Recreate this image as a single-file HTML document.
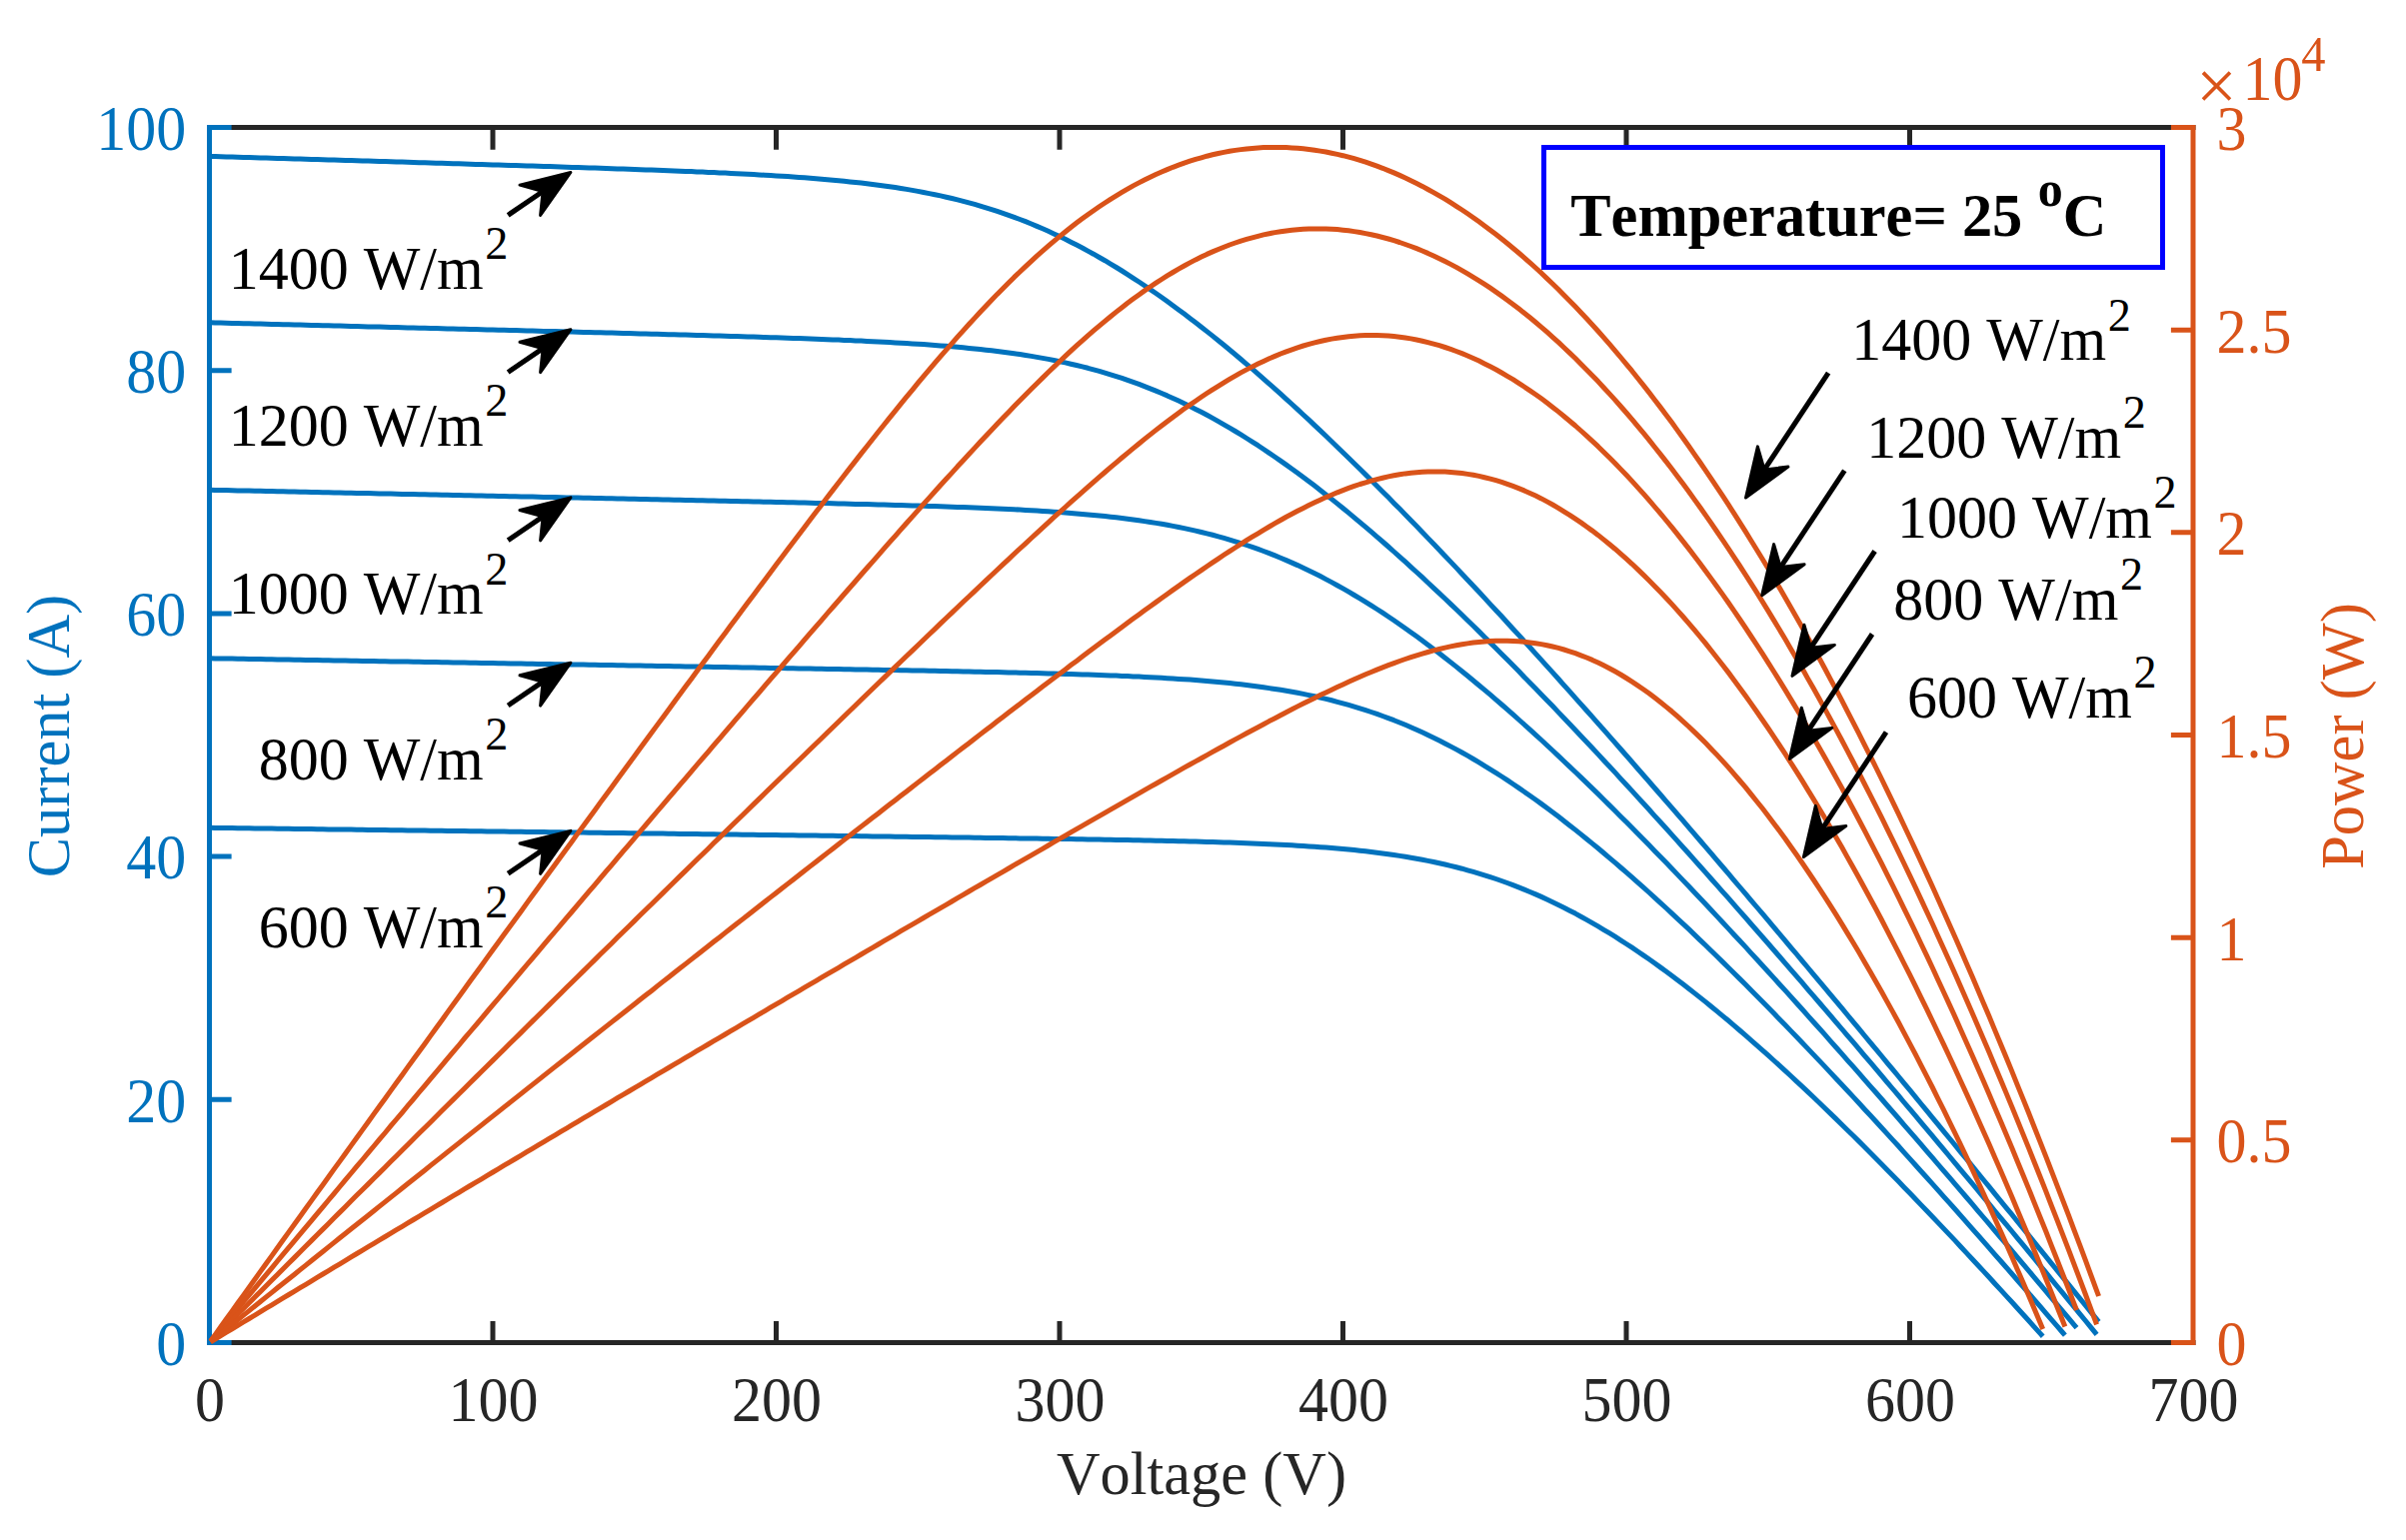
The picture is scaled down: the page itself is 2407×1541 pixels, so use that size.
<!DOCTYPE html><html><head><meta charset="utf-8"><title>PV I-V and P-V curves</title>
<style>html,body{margin:0;padding:0;background:#fff;overflow:hidden}svg{display:block}text{font-family:"Liberation Serif",serif;font-kerning:none}</style></head><body>
<svg width="2407" height="1541" viewBox="0 0 2407 1541">
<rect width="2407" height="1541" fill="#fff"/>
<g stroke="#262626" stroke-width="5.0" stroke-linecap="square" fill="none">
<path d="M209.5 1343.5H2194.0M209.5 127.5H2194.0"/>
<path d="M493.00 1343.5V1322.10M493.00 127.5V149.70M776.50 1343.5V1322.10M776.50 127.5V149.70M1060.00 1343.5V1322.10M1060.00 127.5V149.70M1343.50 1343.5V1322.10M1343.50 127.5V149.70M1627.00 1343.5V1322.10M1627.00 127.5V149.70M1910.50 1343.5V1322.10M1910.50 127.5V149.70" stroke-linecap="butt"/></g>
<text transform="translate(210.0 1422.3) scale(1 1.06)" font-size="60" fill="#262626" text-anchor="middle">0</text>
<text transform="translate(493.5 1422.3) scale(1 1.06)" font-size="60" fill="#262626" text-anchor="middle">100</text>
<text transform="translate(777.0 1422.3) scale(1 1.06)" font-size="60" fill="#262626" text-anchor="middle">200</text>
<text transform="translate(1060.5 1422.3) scale(1 1.06)" font-size="60" fill="#262626" text-anchor="middle">300</text>
<text transform="translate(1344.0 1422.3) scale(1 1.06)" font-size="60" fill="#262626" text-anchor="middle">400</text>
<text transform="translate(1627.5 1422.3) scale(1 1.06)" font-size="60" fill="#262626" text-anchor="middle">500</text>
<text transform="translate(1911.0 1422.3) scale(1 1.06)" font-size="60" fill="#262626" text-anchor="middle">600</text>
<text transform="translate(2194.5 1422.3) scale(1 1.06)" font-size="60" fill="#262626" text-anchor="middle">700</text>
<text x="1202" y="1494.8" font-size="60.4" fill="#262626" text-anchor="middle">Voltage (V)</text>
<g stroke="#0072BD" stroke-width="5.0" stroke-linecap="square" fill="none">
<path d="M209.5 127.5V1343.5"/><path d="M209.5 1343.50H231.60M209.5 1100.30H231.60M209.5 857.10H231.60M209.5 613.90H231.60M209.5 370.70H231.60M209.5 127.50H231.60" stroke-linecap="butt"/></g>
<text transform="translate(186.3 1365.8) scale(1 1.06)" font-size="60" fill="#0072BD" text-anchor="end">0</text>
<text transform="translate(186.3 1122.6) scale(1 1.06)" font-size="60" fill="#0072BD" text-anchor="end">20</text>
<text transform="translate(186.3 879.4) scale(1 1.06)" font-size="60" fill="#0072BD" text-anchor="end">40</text>
<text transform="translate(186.3 636.2) scale(1 1.06)" font-size="60" fill="#0072BD" text-anchor="end">60</text>
<text transform="translate(186.3 393.0) scale(1 1.06)" font-size="60" fill="#0072BD" text-anchor="end">80</text>
<text transform="translate(186.3 149.8) scale(1 1.06)" font-size="60" fill="#0072BD" text-anchor="end">100</text>
<text transform="translate(68.6 736.5) rotate(-90)" font-size="60.4" fill="#0072BD" text-anchor="middle">Current (A)</text>
<g fill="none" stroke="#0072BD" stroke-width="5.0" stroke-linejoin="round">
<path d="M210.6 156.4 L215.2 156.6 L220.8 156.8 L226.5 156.9 L232.2 157.1 L237.8 157.3 L243.5 157.4 L249.2 157.6 L254.9 157.8 L260.5 157.9 L266.2 158.1 L271.9 158.3 L277.5 158.4 L283.2 158.6 L288.9 158.8 L294.6 158.9 L300.2 159.1 L305.9 159.3 L311.6 159.4 L317.2 159.6 L322.9 159.8 L328.6 159.9 L334.2 160.1 L339.9 160.3 L345.6 160.5 L351.2 160.6 L356.9 160.8 L362.6 161.0 L368.3 161.1 L373.9 161.3 L379.6 161.5 L385.3 161.6 L390.9 161.8 L396.6 162.0 L402.3 162.1 L407.9 162.3 L413.6 162.5 L419.3 162.7 L425.0 162.8 L430.6 163.0 L436.3 163.2 L442.0 163.3 L447.6 163.5 L453.3 163.7 L459.0 163.8 L464.6 164.0 L470.3 164.2 L476.0 164.4 L481.7 164.5 L487.3 164.7 L493.0 164.9 L498.7 165.1 L504.3 165.2 L510.0 165.4 L515.7 165.6 L521.4 165.8 L527.0 165.9 L532.7 166.1 L538.4 166.3 L544.0 166.5 L549.7 166.6 L555.4 166.8 L561.0 167.0 L566.7 167.2 L572.4 167.4 L578.0 167.6 L583.7 167.7 L589.4 167.9 L595.1 168.1 L600.7 168.3 L606.4 168.5 L612.1 168.7 L617.7 168.9 L623.4 169.1 L629.1 169.3 L634.8 169.5 L640.4 169.7 L646.1 169.9 L651.8 170.1 L657.4 170.3 L663.1 170.5 L668.8 170.7 L674.4 170.9 L680.1 171.2 L685.8 171.4 L691.5 171.6 L697.1 171.9 L702.8 172.1 L708.5 172.4 L714.1 172.6 L719.8 172.9 L725.5 173.1 L731.1 173.4 L736.8 173.7 L742.5 174.0 L748.1 174.3 L753.8 174.6 L759.5 174.9 L765.2 175.2 L770.8 175.6 L776.5 175.9 L782.2 176.3 L787.8 176.6 L793.5 177.0 L799.2 177.4 L804.9 177.8 L810.5 178.3 L816.2 178.7 L821.9 179.2 L827.5 179.7 L833.2 180.2 L838.9 180.7 L844.5 181.3 L850.2 181.9 L855.9 182.5 L861.5 183.1 L867.2 183.8 L872.9 184.5 L878.6 185.2 L884.2 186.0 L889.9 186.8 L895.6 187.6 L901.2 188.5 L906.9 189.4 L912.6 190.4 L918.2 191.4 L923.9 192.5 L929.6 193.6 L935.3 194.7 L940.9 195.9 L946.6 197.2 L952.3 198.5 L957.9 199.9 L963.6 201.4 L969.3 202.9 L975.0 204.4 L980.6 206.1 L986.3 207.8 L992.0 209.6 L997.6 211.4 L1003.3 213.3 L1009.0 215.3 L1014.6 217.4 L1020.3 219.5 L1026.0 221.7 L1031.7 224.0 L1037.3 226.4 L1043.0 228.8 L1048.7 231.3 L1054.3 233.9 L1060.0 236.6 L1065.7 239.3 L1071.3 242.2 L1077.0 245.1 L1082.7 248.0 L1088.3 251.1 L1094.0 254.2 L1099.7 257.5 L1105.4 260.7 L1111.0 264.1 L1116.7 267.5 L1122.4 271.0 L1128.0 274.6 L1133.7 278.3 L1139.4 282.0 L1145.0 285.8 L1150.7 289.6 L1156.4 293.5 L1162.1 297.5 L1167.7 301.6 L1173.4 305.7 L1179.1 309.9 L1184.7 314.1 L1190.4 318.4 L1196.1 322.7 L1201.8 327.2 L1207.4 331.6 L1213.1 336.1 L1218.8 340.7 L1224.4 345.3 L1230.1 350.0 L1235.8 354.7 L1241.4 359.5 L1247.1 364.3 L1252.8 369.2 L1258.5 374.1 L1264.1 379.1 L1269.8 384.1 L1275.5 389.1 L1281.1 394.2 L1286.8 399.3 L1292.5 404.5 L1298.1 409.7 L1303.8 415.0 L1309.5 420.2 L1315.2 425.6 L1320.8 430.9 L1326.5 436.3 L1332.2 441.7 L1337.8 447.2 L1343.5 452.7 L1349.2 458.2 L1354.8 463.7 L1360.5 469.3 L1366.2 474.9 L1371.8 480.6 L1377.5 486.2 L1383.2 491.9 L1388.9 497.6 L1394.5 503.4 L1400.2 509.1 L1405.9 514.9 L1411.5 520.8 L1417.2 526.6 L1422.9 532.5 L1428.5 538.4 L1434.2 544.3 L1439.9 550.2 L1445.6 556.2 L1451.2 562.1 L1456.9 568.1 L1462.6 574.2 L1468.2 580.2 L1473.9 586.3 L1479.6 592.3 L1485.2 598.4 L1490.9 604.6 L1496.6 610.7 L1502.3 616.8 L1507.9 623.0 L1513.6 629.2 L1519.3 635.4 L1524.9 641.6 L1530.6 647.8 L1536.3 654.1 L1542.0 660.4 L1547.6 666.6 L1553.3 672.9 L1559.0 679.2 L1564.6 685.6 L1570.3 691.9 L1576.0 698.3 L1581.6 704.6 L1587.3 711.0 L1593.0 717.4 L1598.7 723.8 L1604.3 730.2 L1610.0 736.6 L1615.7 743.1 L1621.3 749.5 L1627.0 756.0 L1632.7 762.5 L1638.3 769.0 L1644.0 775.5 L1649.7 782.0 L1655.3 788.5 L1661.0 795.0 L1666.7 801.6 L1672.4 808.1 L1678.0 814.7 L1683.7 821.2 L1689.4 827.8 L1695.0 834.4 L1700.7 841.0 L1706.4 847.6 L1712.0 854.2 L1717.7 860.9 L1723.4 867.5 L1729.1 874.2 L1734.7 880.8 L1740.4 887.5 L1746.1 894.1 L1751.7 900.8 L1757.4 907.5 L1763.1 914.2 L1768.8 920.9 L1774.4 927.6 L1780.1 934.3 L1785.8 941.1 L1791.4 947.8 L1797.1 954.5 L1802.8 961.3 L1808.4 968.0 L1814.1 974.8 L1819.8 981.6 L1825.5 988.3 L1831.1 995.1 L1836.8 1001.9 L1842.5 1008.7 L1848.1 1015.5 L1853.8 1022.3 L1859.5 1029.1 L1865.1 1036.0 L1870.8 1042.8 L1876.5 1049.6 L1882.2 1056.5 L1887.8 1063.3 L1893.5 1070.2 L1899.2 1077.0 L1904.8 1083.9 L1910.5 1090.7 L1916.2 1097.6 L1921.8 1104.5 L1927.5 1111.4 L1933.2 1118.3 L1938.8 1125.2 L1944.5 1132.1 L1950.2 1139.0 L1955.9 1145.9 L1961.5 1152.8 L1967.2 1159.7 L1972.9 1166.6 L1978.5 1173.6 L1984.2 1180.5 L1989.9 1187.4 L1995.5 1194.4 L2001.2 1201.3 L2006.9 1208.3 L2012.6 1215.2 L2018.2 1222.2 L2023.9 1229.2 L2029.6 1236.1 L2035.2 1243.1 L2040.9 1250.1 L2046.6 1257.1 L2052.2 1264.1 L2057.9 1271.1 L2063.6 1278.1 L2069.3 1285.1 L2074.9 1292.1 L2080.6 1299.1 L2086.3 1306.1 L2091.9 1313.1 L2097.6 1320.1 L2099.6 1322.6"/>
<path d="M210.6 322.8 L215.2 323.0 L220.8 323.1 L226.5 323.2 L232.2 323.4 L237.8 323.5 L243.5 323.7 L249.2 323.8 L254.9 324.0 L260.5 324.1 L266.2 324.3 L271.9 324.4 L277.5 324.5 L283.2 324.7 L288.9 324.8 L294.6 325.0 L300.2 325.1 L305.9 325.3 L311.6 325.4 L317.2 325.6 L322.9 325.7 L328.6 325.8 L334.2 326.0 L339.9 326.1 L345.6 326.3 L351.2 326.4 L356.9 326.6 L362.6 326.7 L368.3 326.9 L373.9 327.0 L379.6 327.1 L385.3 327.3 L390.9 327.4 L396.6 327.6 L402.3 327.7 L407.9 327.9 L413.6 328.0 L419.3 328.2 L425.0 328.3 L430.6 328.4 L436.3 328.6 L442.0 328.7 L447.6 328.9 L453.3 329.0 L459.0 329.2 L464.6 329.3 L470.3 329.5 L476.0 329.6 L481.7 329.8 L487.3 329.9 L493.0 330.0 L498.7 330.2 L504.3 330.3 L510.0 330.5 L515.7 330.6 L521.4 330.8 L527.0 330.9 L532.7 331.1 L538.4 331.2 L544.0 331.4 L549.7 331.5 L555.4 331.6 L561.0 331.8 L566.7 331.9 L572.4 332.1 L578.0 332.2 L583.7 332.4 L589.4 332.5 L595.1 332.7 L600.7 332.8 L606.4 333.0 L612.1 333.1 L617.7 333.3 L623.4 333.4 L629.1 333.6 L634.8 333.7 L640.4 333.9 L646.1 334.0 L651.8 334.2 L657.4 334.3 L663.1 334.5 L668.8 334.7 L674.4 334.8 L680.1 335.0 L685.8 335.1 L691.5 335.3 L697.1 335.4 L702.8 335.6 L708.5 335.8 L714.1 335.9 L719.8 336.1 L725.5 336.3 L731.1 336.4 L736.8 336.6 L742.5 336.8 L748.1 336.9 L753.8 337.1 L759.5 337.3 L765.2 337.5 L770.8 337.7 L776.5 337.8 L782.2 338.0 L787.8 338.2 L793.5 338.4 L799.2 338.6 L804.9 338.8 L810.5 339.0 L816.2 339.2 L821.9 339.4 L827.5 339.7 L833.2 339.9 L838.9 340.1 L844.5 340.4 L850.2 340.6 L855.9 340.9 L861.5 341.1 L867.2 341.4 L872.9 341.7 L878.6 341.9 L884.2 342.2 L889.9 342.5 L895.6 342.9 L901.2 343.2 L906.9 343.5 L912.6 343.9 L918.2 344.2 L923.9 344.6 L929.6 345.0 L935.3 345.4 L940.9 345.9 L946.6 346.3 L952.3 346.8 L957.9 347.3 L963.6 347.8 L969.3 348.4 L975.0 348.9 L980.6 349.5 L986.3 350.2 L992.0 350.8 L997.6 351.5 L1003.3 352.2 L1009.0 353.0 L1014.6 353.8 L1020.3 354.6 L1026.0 355.5 L1031.7 356.4 L1037.3 357.4 L1043.0 358.4 L1048.7 359.4 L1054.3 360.5 L1060.0 361.7 L1065.7 362.9 L1071.3 364.2 L1077.0 365.5 L1082.7 366.9 L1088.3 368.3 L1094.0 369.9 L1099.7 371.4 L1105.4 373.1 L1111.0 374.8 L1116.7 376.6 L1122.4 378.4 L1128.0 380.4 L1133.7 382.4 L1139.4 384.4 L1145.0 386.6 L1150.7 388.8 L1156.4 391.1 L1162.1 393.5 L1167.7 395.9 L1173.4 398.5 L1179.1 401.1 L1184.7 403.8 L1190.4 406.6 L1196.1 409.4 L1201.8 412.3 L1207.4 415.3 L1213.1 418.4 L1218.8 421.6 L1224.4 424.8 L1230.1 428.1 L1235.8 431.5 L1241.4 434.9 L1247.1 438.5 L1252.8 442.1 L1258.5 445.7 L1264.1 449.5 L1269.8 453.3 L1275.5 457.2 L1281.1 461.1 L1286.8 465.1 L1292.5 469.2 L1298.1 473.3 L1303.8 477.5 L1309.5 481.8 L1315.2 486.1 L1320.8 490.5 L1326.5 494.9 L1332.2 499.4 L1337.8 503.9 L1343.5 508.5 L1349.2 513.1 L1354.8 517.8 L1360.5 522.6 L1366.2 527.4 L1371.8 532.2 L1377.5 537.1 L1383.2 542.0 L1388.9 547.0 L1394.5 552.0 L1400.2 557.1 L1405.9 562.2 L1411.5 567.3 L1417.2 572.5 L1422.9 577.7 L1428.5 583.0 L1434.2 588.3 L1439.9 593.6 L1445.6 599.0 L1451.2 604.4 L1456.9 609.8 L1462.6 615.3 L1468.2 620.8 L1473.9 626.3 L1479.6 631.9 L1485.2 637.5 L1490.9 643.1 L1496.6 648.7 L1502.3 654.4 L1507.9 660.1 L1513.6 665.8 L1519.3 671.6 L1524.9 677.4 L1530.6 683.2 L1536.3 689.0 L1542.0 694.9 L1547.6 700.7 L1553.3 706.6 L1559.0 712.6 L1564.6 718.5 L1570.3 724.5 L1576.0 730.5 L1581.6 736.5 L1587.3 742.5 L1593.0 748.5 L1598.7 754.6 L1604.3 760.7 L1610.0 766.8 L1615.7 772.9 L1621.3 779.1 L1627.0 785.2 L1632.7 791.4 L1638.3 797.6 L1644.0 803.8 L1649.7 810.0 L1655.3 816.3 L1661.0 822.5 L1666.7 828.8 L1672.4 835.1 L1678.0 841.4 L1683.7 847.7 L1689.4 854.0 L1695.0 860.4 L1700.7 866.7 L1706.4 873.1 L1712.0 879.5 L1717.7 885.9 L1723.4 892.3 L1729.1 898.7 L1734.7 905.1 L1740.4 911.6 L1746.1 918.0 L1751.7 924.5 L1757.4 931.0 L1763.1 937.5 L1768.8 944.0 L1774.4 950.5 L1780.1 957.0 L1785.8 963.6 L1791.4 970.1 L1797.1 976.7 L1802.8 983.2 L1808.4 989.8 L1814.1 996.4 L1819.8 1003.0 L1825.5 1009.6 L1831.1 1016.2 L1836.8 1022.8 L1842.5 1029.5 L1848.1 1036.1 L1853.8 1042.7 L1859.5 1049.4 L1865.1 1056.1 L1870.8 1062.7 L1876.5 1069.4 L1882.2 1076.1 L1887.8 1082.8 L1893.5 1089.5 L1899.2 1096.2 L1904.8 1103.0 L1910.5 1109.7 L1916.2 1116.4 L1921.8 1123.2 L1927.5 1129.9 L1933.2 1136.7 L1938.8 1143.4 L1944.5 1150.2 L1950.2 1157.0 L1955.9 1163.8 L1961.5 1170.6 L1967.2 1177.4 L1972.9 1184.2 L1978.5 1191.0 L1984.2 1197.8 L1989.9 1204.6 L1995.5 1211.5 L2001.2 1218.3 L2006.9 1225.1 L2012.6 1232.0 L2018.2 1238.8 L2023.9 1245.7 L2029.6 1252.6 L2035.2 1259.4 L2040.9 1266.3 L2046.6 1273.2 L2052.2 1280.1 L2057.9 1287.0 L2063.6 1293.9 L2069.3 1300.8 L2074.9 1307.7 L2080.6 1314.6 L2086.3 1321.5 L2091.9 1328.4 L2097.6 1335.4"/>
<path d="M210.6 490.3 L215.2 490.4 L220.8 490.5 L226.5 490.6 L232.2 490.7 L237.8 490.9 L243.5 491.0 L249.2 491.1 L254.9 491.2 L260.5 491.3 L266.2 491.5 L271.9 491.6 L277.5 491.7 L283.2 491.8 L288.9 491.9 L294.6 492.1 L300.2 492.2 L305.9 492.3 L311.6 492.4 L317.2 492.6 L322.9 492.7 L328.6 492.8 L334.2 492.9 L339.9 493.0 L345.6 493.2 L351.2 493.3 L356.9 493.4 L362.6 493.5 L368.3 493.6 L373.9 493.8 L379.6 493.9 L385.3 494.0 L390.9 494.1 L396.6 494.2 L402.3 494.4 L407.9 494.5 L413.6 494.6 L419.3 494.7 L425.0 494.8 L430.6 495.0 L436.3 495.1 L442.0 495.2 L447.6 495.3 L453.3 495.4 L459.0 495.6 L464.6 495.7 L470.3 495.8 L476.0 495.9 L481.7 496.1 L487.3 496.2 L493.0 496.3 L498.7 496.4 L504.3 496.5 L510.0 496.7 L515.7 496.8 L521.4 496.9 L527.0 497.0 L532.7 497.1 L538.4 497.3 L544.0 497.4 L549.7 497.5 L555.4 497.6 L561.0 497.7 L566.7 497.9 L572.4 498.0 L578.0 498.1 L583.7 498.2 L589.4 498.3 L595.1 498.5 L600.7 498.6 L606.4 498.7 L612.1 498.8 L617.7 499.0 L623.4 499.1 L629.1 499.2 L634.8 499.3 L640.4 499.4 L646.1 499.6 L651.8 499.7 L657.4 499.8 L663.1 499.9 L668.8 500.1 L674.4 500.2 L680.1 500.3 L685.8 500.4 L691.5 500.6 L697.1 500.7 L702.8 500.8 L708.5 500.9 L714.1 501.0 L719.8 501.2 L725.5 501.3 L731.1 501.4 L736.8 501.6 L742.5 501.7 L748.1 501.8 L753.8 501.9 L759.5 502.1 L765.2 502.2 L770.8 502.3 L776.5 502.4 L782.2 502.6 L787.8 502.7 L793.5 502.8 L799.2 503.0 L804.9 503.1 L810.5 503.2 L816.2 503.4 L821.9 503.5 L827.5 503.6 L833.2 503.8 L838.9 503.9 L844.5 504.1 L850.2 504.2 L855.9 504.4 L861.5 504.5 L867.2 504.6 L872.9 504.8 L878.6 504.9 L884.2 505.1 L889.9 505.3 L895.6 505.4 L901.2 505.6 L906.9 505.7 L912.6 505.9 L918.2 506.1 L923.9 506.3 L929.6 506.4 L935.3 506.6 L940.9 506.8 L946.6 507.0 L952.3 507.2 L957.9 507.4 L963.6 507.6 L969.3 507.8 L975.0 508.1 L980.6 508.3 L986.3 508.5 L992.0 508.8 L997.6 509.0 L1003.3 509.3 L1009.0 509.6 L1014.6 509.8 L1020.3 510.1 L1026.0 510.4 L1031.7 510.8 L1037.3 511.1 L1043.0 511.5 L1048.7 511.8 L1054.3 512.2 L1060.0 512.6 L1065.7 513.0 L1071.3 513.5 L1077.0 513.9 L1082.7 514.4 L1088.3 514.9 L1094.0 515.4 L1099.7 516.0 L1105.4 516.6 L1111.0 517.2 L1116.7 517.8 L1122.4 518.5 L1128.0 519.2 L1133.7 520.0 L1139.4 520.8 L1145.0 521.6 L1150.7 522.5 L1156.4 523.4 L1162.1 524.3 L1167.7 525.3 L1173.4 526.4 L1179.1 527.5 L1184.7 528.6 L1190.4 529.9 L1196.1 531.1 L1201.8 532.5 L1207.4 533.9 L1213.1 535.3 L1218.8 536.8 L1224.4 538.4 L1230.1 540.1 L1235.8 541.8 L1241.4 543.6 L1247.1 545.5 L1252.8 547.4 L1258.5 549.4 L1264.1 551.5 L1269.8 553.7 L1275.5 555.9 L1281.1 558.2 L1286.8 560.6 L1292.5 563.1 L1298.1 565.6 L1303.8 568.3 L1309.5 571.0 L1315.2 573.8 L1320.8 576.6 L1326.5 579.6 L1332.2 582.6 L1337.8 585.7 L1343.5 588.9 L1349.2 592.2 L1354.8 595.5 L1360.5 598.9 L1366.2 602.4 L1371.8 605.9 L1377.5 609.5 L1383.2 613.2 L1388.9 617.0 L1394.5 620.8 L1400.2 624.7 L1405.9 628.7 L1411.5 632.7 L1417.2 636.8 L1422.9 641.0 L1428.5 645.2 L1434.2 649.4 L1439.9 653.8 L1445.6 658.2 L1451.2 662.6 L1456.9 667.1 L1462.6 671.7 L1468.2 676.3 L1473.9 681.0 L1479.6 685.7 L1485.2 690.4 L1490.9 695.2 L1496.6 700.1 L1502.3 705.0 L1507.9 709.9 L1513.6 714.9 L1519.3 720.0 L1524.9 725.0 L1530.6 730.2 L1536.3 735.3 L1542.0 740.5 L1547.6 745.8 L1553.3 751.0 L1559.0 756.3 L1564.6 761.7 L1570.3 767.1 L1576.0 772.5 L1581.6 777.9 L1587.3 783.4 L1593.0 788.9 L1598.7 794.4 L1604.3 800.0 L1610.0 805.6 L1615.7 811.3 L1621.3 816.9 L1627.0 822.6 L1632.7 828.3 L1638.3 834.0 L1644.0 839.8 L1649.7 845.6 L1655.3 851.4 L1661.0 857.3 L1666.7 863.1 L1672.4 869.0 L1678.0 874.9 L1683.7 880.9 L1689.4 886.8 L1695.0 892.8 L1700.7 898.8 L1706.4 904.8 L1712.0 910.8 L1717.7 916.9 L1723.4 923.0 L1729.1 929.1 L1734.7 935.2 L1740.4 941.3 L1746.1 947.4 L1751.7 953.6 L1757.4 959.8 L1763.1 966.0 L1768.8 972.2 L1774.4 978.4 L1780.1 984.7 L1785.8 990.9 L1791.4 997.2 L1797.1 1003.5 L1802.8 1009.8 L1808.4 1016.1 L1814.1 1022.5 L1819.8 1028.8 L1825.5 1035.2 L1831.1 1041.6 L1836.8 1048.0 L1842.5 1054.4 L1848.1 1060.8 L1853.8 1067.2 L1859.5 1073.6 L1865.1 1080.1 L1870.8 1086.6 L1876.5 1093.0 L1882.2 1099.5 L1887.8 1106.0 L1893.5 1112.5 L1899.2 1119.0 L1904.8 1125.6 L1910.5 1132.1 L1916.2 1138.7 L1921.8 1145.2 L1927.5 1151.8 L1933.2 1158.4 L1938.8 1165.0 L1944.5 1171.6 L1950.2 1178.2 L1955.9 1184.8 L1961.5 1191.4 L1967.2 1198.0 L1972.9 1204.7 L1978.5 1211.3 L1984.2 1218.0 L1989.9 1224.7 L1995.5 1231.4 L2001.2 1238.0 L2006.9 1244.7 L2012.6 1251.4 L2018.2 1258.1 L2023.9 1264.9 L2029.6 1271.6 L2035.2 1278.3 L2040.9 1285.1 L2046.6 1291.8 L2052.2 1298.6 L2057.9 1305.3 L2063.6 1312.1 L2069.3 1318.9 L2074.9 1325.6 L2077.5 1328.7"/>
<path d="M210.6 658.8 L215.2 658.9 L220.8 659.0 L226.5 659.1 L232.2 659.1 L237.8 659.2 L243.5 659.3 L249.2 659.4 L254.9 659.5 L260.5 659.6 L266.2 659.7 L271.9 659.8 L277.5 659.9 L283.2 660.0 L288.9 660.1 L294.6 660.2 L300.2 660.3 L305.9 660.4 L311.6 660.5 L317.2 660.6 L322.9 660.7 L328.6 660.8 L334.2 660.9 L339.9 661.0 L345.6 661.1 L351.2 661.2 L356.9 661.3 L362.6 661.4 L368.3 661.5 L373.9 661.6 L379.6 661.7 L385.3 661.8 L390.9 661.9 L396.6 662.0 L402.3 662.1 L407.9 662.1 L413.6 662.2 L419.3 662.3 L425.0 662.4 L430.6 662.5 L436.3 662.6 L442.0 662.7 L447.6 662.8 L453.3 662.9 L459.0 663.0 L464.6 663.1 L470.3 663.2 L476.0 663.3 L481.7 663.4 L487.3 663.5 L493.0 663.6 L498.7 663.7 L504.3 663.8 L510.0 663.9 L515.7 664.0 L521.4 664.1 L527.0 664.2 L532.7 664.3 L538.4 664.4 L544.0 664.5 L549.7 664.6 L555.4 664.7 L561.0 664.8 L566.7 664.9 L572.4 665.0 L578.0 665.1 L583.7 665.1 L589.4 665.2 L595.1 665.3 L600.7 665.4 L606.4 665.5 L612.1 665.6 L617.7 665.7 L623.4 665.8 L629.1 665.9 L634.8 666.0 L640.4 666.1 L646.1 666.2 L651.8 666.3 L657.4 666.4 L663.1 666.5 L668.8 666.6 L674.4 666.7 L680.1 666.8 L685.8 666.9 L691.5 667.0 L697.1 667.1 L702.8 667.2 L708.5 667.3 L714.1 667.4 L719.8 667.5 L725.5 667.6 L731.1 667.7 L736.8 667.8 L742.5 667.9 L748.1 668.0 L753.8 668.1 L759.5 668.2 L765.2 668.3 L770.8 668.4 L776.5 668.5 L782.2 668.6 L787.8 668.7 L793.5 668.8 L799.2 668.9 L804.9 669.0 L810.5 669.1 L816.2 669.2 L821.9 669.3 L827.5 669.4 L833.2 669.5 L838.9 669.6 L844.5 669.7 L850.2 669.8 L855.9 669.9 L861.5 670.0 L867.2 670.1 L872.9 670.2 L878.6 670.3 L884.2 670.4 L889.9 670.5 L895.6 670.6 L901.2 670.7 L906.9 670.8 L912.6 670.9 L918.2 671.0 L923.9 671.1 L929.6 671.2 L935.3 671.3 L940.9 671.5 L946.6 671.6 L952.3 671.7 L957.9 671.8 L963.6 671.9 L969.3 672.0 L975.0 672.2 L980.6 672.3 L986.3 672.4 L992.0 672.5 L997.6 672.6 L1003.3 672.8 L1009.0 672.9 L1014.6 673.0 L1020.3 673.2 L1026.0 673.3 L1031.7 673.5 L1037.3 673.6 L1043.0 673.8 L1048.7 673.9 L1054.3 674.1 L1060.0 674.2 L1065.7 674.4 L1071.3 674.6 L1077.0 674.7 L1082.7 674.9 L1088.3 675.1 L1094.0 675.3 L1099.7 675.5 L1105.4 675.7 L1111.0 675.9 L1116.7 676.1 L1122.4 676.4 L1128.0 676.6 L1133.7 676.9 L1139.4 677.1 L1145.0 677.4 L1150.7 677.7 L1156.4 678.0 L1162.1 678.3 L1167.7 678.7 L1173.4 679.0 L1179.1 679.4 L1184.7 679.7 L1190.4 680.1 L1196.1 680.6 L1201.8 681.0 L1207.4 681.5 L1213.1 682.0 L1218.8 682.5 L1224.4 683.0 L1230.1 683.6 L1235.8 684.2 L1241.4 684.8 L1247.1 685.5 L1252.8 686.2 L1258.5 687.0 L1264.1 687.7 L1269.8 688.6 L1275.5 689.4 L1281.1 690.3 L1286.8 691.3 L1292.5 692.3 L1298.1 693.3 L1303.8 694.4 L1309.5 695.6 L1315.2 696.8 L1320.8 698.1 L1326.5 699.4 L1332.2 700.8 L1337.8 702.3 L1343.5 703.8 L1349.2 705.4 L1354.8 707.1 L1360.5 708.8 L1366.2 710.6 L1371.8 712.5 L1377.5 714.4 L1383.2 716.5 L1388.9 718.6 L1394.5 720.7 L1400.2 723.0 L1405.9 725.3 L1411.5 727.7 L1417.2 730.2 L1422.9 732.8 L1428.5 735.5 L1434.2 738.2 L1439.9 741.0 L1445.6 743.9 L1451.2 746.9 L1456.9 749.9 L1462.6 753.0 L1468.2 756.2 L1473.9 759.5 L1479.6 762.9 L1485.2 766.3 L1490.9 769.8 L1496.6 773.4 L1502.3 777.0 L1507.9 780.7 L1513.6 784.5 L1519.3 788.4 L1524.9 792.3 L1530.6 796.3 L1536.3 800.3 L1542.0 804.4 L1547.6 808.6 L1553.3 812.8 L1559.0 817.1 L1564.6 821.5 L1570.3 825.9 L1576.0 830.4 L1581.6 834.9 L1587.3 839.5 L1593.0 844.1 L1598.7 848.8 L1604.3 853.5 L1610.0 858.3 L1615.7 863.1 L1621.3 868.0 L1627.0 872.9 L1632.7 877.9 L1638.3 882.9 L1644.0 887.9 L1649.7 893.0 L1655.3 898.1 L1661.0 903.3 L1666.7 908.5 L1672.4 913.8 L1678.0 919.1 L1683.7 924.4 L1689.4 929.7 L1695.0 935.1 L1700.7 940.6 L1706.4 946.0 L1712.0 951.5 L1717.7 957.0 L1723.4 962.6 L1729.1 968.2 L1734.7 973.8 L1740.4 979.4 L1746.1 985.1 L1751.7 990.8 L1757.4 996.5 L1763.1 1002.3 L1768.8 1008.0 L1774.4 1013.8 L1780.1 1019.7 L1785.8 1025.5 L1791.4 1031.4 L1797.1 1037.3 L1802.8 1043.2 L1808.4 1049.1 L1814.1 1055.1 L1819.8 1061.1 L1825.5 1067.1 L1831.1 1073.1 L1836.8 1079.2 L1842.5 1085.2 L1848.1 1091.3 L1853.8 1097.4 L1859.5 1103.5 L1865.1 1109.7 L1870.8 1115.8 L1876.5 1122.0 L1882.2 1128.2 L1887.8 1134.4 L1893.5 1140.6 L1899.2 1146.8 L1904.8 1153.1 L1910.5 1159.4 L1916.2 1165.7 L1921.8 1172.0 L1927.5 1178.3 L1933.2 1184.6 L1938.8 1190.9 L1944.5 1197.3 L1950.2 1203.7 L1955.9 1210.0 L1961.5 1216.4 L1967.2 1222.8 L1972.9 1229.3 L1978.5 1235.7 L1984.2 1242.1 L1989.9 1248.6 L1995.5 1255.1 L2001.2 1261.5 L2006.9 1268.0 L2012.6 1274.5 L2018.2 1281.0 L2023.9 1287.6 L2029.6 1294.1 L2035.2 1300.7 L2040.9 1307.2 L2046.6 1313.8 L2052.2 1320.3 L2057.9 1326.9 L2063.6 1333.5 L2065.9 1336.2"/>
<path d="M210.6 828.3 L215.2 828.4 L220.8 828.5 L226.5 828.5 L232.2 828.6 L237.8 828.7 L243.5 828.8 L249.2 828.8 L254.9 828.9 L260.5 829.0 L266.2 829.1 L271.9 829.1 L277.5 829.2 L283.2 829.3 L288.9 829.3 L294.6 829.4 L300.2 829.5 L305.9 829.6 L311.6 829.6 L317.2 829.7 L322.9 829.8 L328.6 829.9 L334.2 829.9 L339.9 830.0 L345.6 830.1 L351.2 830.1 L356.9 830.2 L362.6 830.3 L368.3 830.4 L373.9 830.4 L379.6 830.5 L385.3 830.6 L390.9 830.7 L396.6 830.7 L402.3 830.8 L407.9 830.9 L413.6 830.9 L419.3 831.0 L425.0 831.1 L430.6 831.2 L436.3 831.2 L442.0 831.3 L447.6 831.4 L453.3 831.5 L459.0 831.5 L464.6 831.6 L470.3 831.7 L476.0 831.7 L481.7 831.8 L487.3 831.9 L493.0 832.0 L498.7 832.0 L504.3 832.1 L510.0 832.2 L515.7 832.3 L521.4 832.3 L527.0 832.4 L532.7 832.5 L538.4 832.5 L544.0 832.6 L549.7 832.7 L555.4 832.8 L561.0 832.8 L566.7 832.9 L572.4 833.0 L578.0 833.1 L583.7 833.1 L589.4 833.2 L595.1 833.3 L600.7 833.3 L606.4 833.4 L612.1 833.5 L617.7 833.6 L623.4 833.6 L629.1 833.7 L634.8 833.8 L640.4 833.9 L646.1 833.9 L651.8 834.0 L657.4 834.1 L663.1 834.1 L668.8 834.2 L674.4 834.3 L680.1 834.4 L685.8 834.4 L691.5 834.5 L697.1 834.6 L702.8 834.7 L708.5 834.7 L714.1 834.8 L719.8 834.9 L725.5 835.0 L731.1 835.0 L736.8 835.1 L742.5 835.2 L748.1 835.2 L753.8 835.3 L759.5 835.4 L765.2 835.5 L770.8 835.5 L776.5 835.6 L782.2 835.7 L787.8 835.8 L793.5 835.8 L799.2 835.9 L804.9 836.0 L810.5 836.0 L816.2 836.1 L821.9 836.2 L827.5 836.3 L833.2 836.3 L838.9 836.4 L844.5 836.5 L850.2 836.6 L855.9 836.6 L861.5 836.7 L867.2 836.8 L872.9 836.9 L878.6 836.9 L884.2 837.0 L889.9 837.1 L895.6 837.2 L901.2 837.2 L906.9 837.3 L912.6 837.4 L918.2 837.5 L923.9 837.5 L929.6 837.6 L935.3 837.7 L940.9 837.8 L946.6 837.8 L952.3 837.9 L957.9 838.0 L963.6 838.1 L969.3 838.1 L975.0 838.2 L980.6 838.3 L986.3 838.4 L992.0 838.5 L997.6 838.5 L1003.3 838.6 L1009.0 838.7 L1014.6 838.8 L1020.3 838.9 L1026.0 838.9 L1031.7 839.0 L1037.3 839.1 L1043.0 839.2 L1048.7 839.3 L1054.3 839.4 L1060.0 839.4 L1065.7 839.5 L1071.3 839.6 L1077.0 839.7 L1082.7 839.8 L1088.3 839.9 L1094.0 840.0 L1099.7 840.1 L1105.4 840.2 L1111.0 840.3 L1116.7 840.4 L1122.4 840.5 L1128.0 840.6 L1133.7 840.7 L1139.4 840.8 L1145.0 840.9 L1150.7 841.0 L1156.4 841.2 L1162.1 841.3 L1167.7 841.4 L1173.4 841.5 L1179.1 841.7 L1184.7 841.8 L1190.4 842.0 L1196.1 842.1 L1201.8 842.3 L1207.4 842.4 L1213.1 842.6 L1218.8 842.8 L1224.4 842.9 L1230.1 843.1 L1235.8 843.3 L1241.4 843.5 L1247.1 843.7 L1252.8 844.0 L1258.5 844.2 L1264.1 844.4 L1269.8 844.7 L1275.5 845.0 L1281.1 845.2 L1286.8 845.5 L1292.5 845.8 L1298.1 846.2 L1303.8 846.5 L1309.5 846.9 L1315.2 847.3 L1320.8 847.7 L1326.5 848.1 L1332.2 848.6 L1337.8 849.0 L1343.5 849.5 L1349.2 850.1 L1354.8 850.6 L1360.5 851.2 L1366.2 851.8 L1371.8 852.5 L1377.5 853.2 L1383.2 853.9 L1388.9 854.7 L1394.5 855.5 L1400.2 856.4 L1405.9 857.3 L1411.5 858.2 L1417.2 859.2 L1422.9 860.3 L1428.5 861.4 L1434.2 862.5 L1439.9 863.8 L1445.6 865.0 L1451.2 866.4 L1456.9 867.8 L1462.6 869.2 L1468.2 870.8 L1473.9 872.4 L1479.6 874.1 L1485.2 875.8 L1490.9 877.6 L1496.6 879.5 L1502.3 881.5 L1507.9 883.5 L1513.6 885.6 L1519.3 887.8 L1524.9 890.1 L1530.6 892.5 L1536.3 894.9 L1542.0 897.4 L1547.6 900.0 L1553.3 902.7 L1559.0 905.4 L1564.6 908.2 L1570.3 911.2 L1576.0 914.1 L1581.6 917.2 L1587.3 920.4 L1593.0 923.6 L1598.7 926.9 L1604.3 930.3 L1610.0 933.7 L1615.7 937.2 L1621.3 940.8 L1627.0 944.5 L1632.7 948.2 L1638.3 952.0 L1644.0 955.9 L1649.7 959.8 L1655.3 963.8 L1661.0 967.9 L1666.7 972.0 L1672.4 976.2 L1678.0 980.5 L1683.7 984.8 L1689.4 989.2 L1695.0 993.6 L1700.7 998.1 L1706.4 1002.6 L1712.0 1007.2 L1717.7 1011.9 L1723.4 1016.6 L1729.1 1021.3 L1734.7 1026.1 L1740.4 1031.0 L1746.1 1035.9 L1751.7 1040.8 L1757.4 1045.8 L1763.1 1050.8 L1768.8 1055.9 L1774.4 1061.0 L1780.1 1066.1 L1785.8 1071.3 L1791.4 1076.5 L1797.1 1081.8 L1802.8 1087.1 L1808.4 1092.4 L1814.1 1097.8 L1819.8 1103.2 L1825.5 1108.7 L1831.1 1114.1 L1836.8 1119.6 L1842.5 1125.2 L1848.1 1130.7 L1853.8 1136.3 L1859.5 1141.9 L1865.1 1147.6 L1870.8 1153.3 L1876.5 1159.0 L1882.2 1164.7 L1887.8 1170.5 L1893.5 1176.3 L1899.2 1182.1 L1904.8 1187.9 L1910.5 1193.8 L1916.2 1199.7 L1921.8 1205.6 L1927.5 1211.5 L1933.2 1217.4 L1938.8 1223.4 L1944.5 1229.4 L1950.2 1235.4 L1955.9 1241.4 L1961.5 1247.5 L1967.2 1253.6 L1972.9 1259.7 L1978.5 1265.8 L1984.2 1271.9 L1989.9 1278.0 L1995.5 1284.2 L2001.2 1290.4 L2006.9 1296.6 L2012.6 1302.8 L2018.2 1309.0 L2023.9 1315.3 L2029.6 1321.5 L2035.2 1327.8 L2040.9 1334.1 L2043.7 1337.2"/>
</g>
<g fill="none" stroke="#D95319" stroke-width="5.0" stroke-linejoin="round">
<path d="M210.6 1341.9 L215.2 1335.6 L220.8 1327.7 L226.5 1319.8 L232.2 1311.9 L237.8 1304.0 L243.5 1296.1 L249.2 1288.2 L254.9 1280.3 L260.5 1272.4 L266.2 1264.5 L271.9 1256.6 L277.5 1248.7 L283.2 1240.8 L288.9 1232.9 L294.6 1225.0 L300.2 1217.2 L305.9 1209.3 L311.6 1201.4 L317.2 1193.5 L322.9 1185.7 L328.6 1177.8 L334.2 1169.9 L339.9 1162.1 L345.6 1154.2 L351.2 1146.4 L356.9 1138.5 L362.6 1130.6 L368.3 1122.8 L373.9 1114.9 L379.6 1107.1 L385.3 1099.2 L390.9 1091.4 L396.6 1083.6 L402.3 1075.7 L407.9 1067.9 L413.6 1060.1 L419.3 1052.2 L425.0 1044.4 L430.6 1036.6 L436.3 1028.7 L442.0 1020.9 L447.6 1013.1 L453.3 1005.3 L459.0 997.5 L464.6 989.7 L470.3 981.8 L476.0 974.0 L481.7 966.2 L487.3 958.4 L493.0 950.6 L498.7 942.8 L504.3 935.0 L510.0 927.2 L515.7 919.4 L521.4 911.7 L527.0 903.9 L532.7 896.1 L538.4 888.3 L544.0 880.5 L549.7 872.8 L555.4 865.0 L561.0 857.2 L566.7 849.4 L572.4 841.7 L578.0 833.9 L583.7 826.2 L589.4 818.4 L595.1 810.7 L600.7 802.9 L606.4 795.2 L612.1 787.4 L617.7 779.7 L623.4 771.9 L629.1 764.2 L634.8 756.5 L640.4 748.8 L646.1 741.0 L651.8 733.3 L657.4 725.6 L663.1 717.9 L668.8 710.2 L674.4 702.5 L680.1 694.8 L685.8 687.1 L691.5 679.4 L697.1 671.8 L702.8 664.1 L708.5 656.4 L714.1 648.8 L719.8 641.1 L725.5 633.5 L731.1 625.8 L736.8 618.2 L742.5 610.6 L748.1 603.0 L753.8 595.4 L759.5 587.8 L765.2 580.2 L770.8 572.7 L776.5 565.1 L782.2 557.6 L787.8 550.0 L793.5 542.5 L799.2 535.0 L804.9 527.5 L810.5 520.1 L816.2 512.6 L821.9 505.2 L827.5 497.8 L833.2 490.4 L838.9 483.0 L844.5 475.7 L850.2 468.4 L855.9 461.1 L861.5 453.9 L867.2 446.7 L872.9 439.5 L878.6 432.3 L884.2 425.2 L889.9 418.1 L895.6 411.1 L901.2 404.1 L906.9 397.2 L912.6 390.3 L918.2 383.4 L923.9 376.6 L929.6 369.9 L935.3 363.2 L940.9 356.6 L946.6 350.1 L952.3 343.6 L957.9 337.2 L963.6 330.8 L969.3 324.5 L975.0 318.4 L980.6 312.2 L986.3 306.2 L992.0 300.3 L997.6 294.4 L1003.3 288.7 L1009.0 283.0 L1014.6 277.4 L1020.3 272.0 L1026.0 266.6 L1031.7 261.3 L1037.3 256.1 L1043.0 251.1 L1048.7 246.1 L1054.3 241.3 L1060.0 236.6 L1065.7 232.0 L1071.3 227.5 L1077.0 223.1 L1082.7 218.8 L1088.3 214.7 L1094.0 210.7 L1099.7 206.8 L1105.4 203.0 L1111.0 199.3 L1116.7 195.8 L1122.4 192.4 L1128.0 189.1 L1133.7 185.9 L1139.4 182.9 L1145.0 180.0 L1150.7 177.2 L1156.4 174.5 L1162.1 172.0 L1167.7 169.6 L1173.4 167.3 L1179.1 165.2 L1184.7 163.1 L1190.4 161.2 L1196.1 159.4 L1201.8 157.8 L1207.4 156.2 L1213.1 154.8 L1218.8 153.5 L1224.4 152.4 L1230.1 151.3 L1235.8 150.4 L1241.4 149.6 L1247.1 148.9 L1252.8 148.4 L1258.5 147.9 L1264.1 147.6 L1269.8 147.4 L1275.5 147.4 L1281.1 147.4 L1286.8 147.6 L1292.5 147.9 L1298.1 148.3 L1303.8 148.8 L1309.5 149.4 L1315.2 150.2 L1320.8 151.1 L1326.5 152.0 L1332.2 153.2 L1337.8 154.4 L1343.5 155.7 L1349.2 157.2 L1354.8 158.7 L1360.5 160.4 L1366.2 162.2 L1371.8 164.1 L1377.5 166.2 L1383.2 168.3 L1388.9 170.6 L1394.5 172.9 L1400.2 175.4 L1405.9 178.0 L1411.5 180.7 L1417.2 183.5 L1422.9 186.4 L1428.5 189.5 L1434.2 192.6 L1439.9 195.9 L1445.6 199.2 L1451.2 202.7 L1456.9 206.3 L1462.6 210.0 L1468.2 213.8 L1473.9 217.7 L1479.6 221.8 L1485.2 225.9 L1490.9 230.2 L1496.6 234.5 L1502.3 239.0 L1507.9 243.5 L1513.6 248.2 L1519.3 253.0 L1524.9 257.9 L1530.6 262.9 L1536.3 268.0 L1542.0 273.2 L1547.6 278.6 L1553.3 284.0 L1559.0 289.5 L1564.6 295.2 L1570.3 300.9 L1576.0 306.8 L1581.6 312.8 L1587.3 318.8 L1593.0 325.0 L1598.7 331.3 L1604.3 337.7 L1610.0 344.2 L1615.7 350.8 L1621.3 357.5 L1627.0 364.3 L1632.7 371.2 L1638.3 378.3 L1644.0 385.4 L1649.7 392.6 L1655.3 400.0 L1661.0 407.4 L1666.7 415.0 L1672.4 422.6 L1678.0 430.4 L1683.7 438.3 L1689.4 446.2 L1695.0 454.3 L1700.7 462.5 L1706.4 470.8 L1712.0 479.2 L1717.7 487.6 L1723.4 496.2 L1729.1 504.9 L1734.7 513.7 L1740.4 522.7 L1746.1 531.7 L1751.7 540.8 L1757.4 550.0 L1763.1 559.3 L1768.8 568.7 L1774.4 578.3 L1780.1 587.9 L1785.8 597.7 L1791.4 607.5 L1797.1 617.4 L1802.8 627.5 L1808.4 637.6 L1814.1 647.9 L1819.8 658.3 L1825.5 668.7 L1831.1 679.3 L1836.8 689.9 L1842.5 700.7 L1848.1 711.6 L1853.8 722.6 L1859.5 733.6 L1865.1 744.8 L1870.8 756.1 L1876.5 767.5 L1882.2 779.0 L1887.8 790.6 L1893.5 802.3 L1899.2 814.1 L1904.8 826.0 L1910.5 838.0 L1916.2 850.1 L1921.8 862.3 L1927.5 874.6 L1933.2 887.0 L1938.8 899.6 L1944.5 912.2 L1950.2 924.9 L1955.9 937.7 L1961.5 950.6 L1967.2 963.7 L1972.9 976.8 L1978.5 990.0 L1984.2 1003.4 L1989.9 1016.8 L1995.5 1030.4 L2001.2 1044.0 L2006.9 1057.8 L2012.6 1071.6 L2018.2 1085.6 L2023.9 1099.6 L2029.6 1113.8 L2035.2 1128.0 L2040.9 1142.4 L2046.6 1156.8 L2052.2 1171.4 L2057.9 1186.1 L2063.6 1200.8 L2069.3 1215.7 L2074.9 1230.7 L2080.6 1245.7 L2086.3 1260.9 L2091.9 1276.2 L2097.6 1291.6 L2099.6 1297.0"/>
<path d="M210.6 1342.1 L215.2 1336.7 L220.8 1329.9 L226.5 1323.1 L232.2 1316.3 L237.8 1309.5 L243.5 1302.7 L249.2 1295.9 L254.9 1289.1 L260.5 1282.3 L266.2 1275.6 L271.9 1268.8 L277.5 1262.0 L283.2 1255.2 L288.9 1248.4 L294.6 1241.6 L300.2 1234.9 L305.9 1228.1 L311.6 1221.3 L317.2 1214.6 L322.9 1207.8 L328.6 1201.0 L334.2 1194.3 L339.9 1187.5 L345.6 1180.7 L351.2 1174.0 L356.9 1167.2 L362.6 1160.5 L368.3 1153.7 L373.9 1147.0 L379.6 1140.2 L385.3 1133.5 L390.9 1126.7 L396.6 1120.0 L402.3 1113.3 L407.9 1106.5 L413.6 1099.8 L419.3 1093.0 L425.0 1086.3 L430.6 1079.6 L436.3 1072.9 L442.0 1066.1 L447.6 1059.4 L453.3 1052.7 L459.0 1046.0 L464.6 1039.2 L470.3 1032.5 L476.0 1025.8 L481.7 1019.1 L487.3 1012.4 L493.0 1005.7 L498.7 999.0 L504.3 992.3 L510.0 985.6 L515.7 978.9 L521.4 972.2 L527.0 965.5 L532.7 958.8 L538.4 952.1 L544.0 945.4 L549.7 938.7 L555.4 932.0 L561.0 925.3 L566.7 918.6 L572.4 912.0 L578.0 905.3 L583.7 898.6 L589.4 891.9 L595.1 885.3 L600.7 878.6 L606.4 871.9 L612.1 865.3 L617.7 858.6 L623.4 851.9 L629.1 845.3 L634.8 838.6 L640.4 832.0 L646.1 825.3 L651.8 818.7 L657.4 812.0 L663.1 805.4 L668.8 798.7 L674.4 792.1 L680.1 785.4 L685.8 778.8 L691.5 772.2 L697.1 765.5 L702.8 758.9 L708.5 752.3 L714.1 745.7 L719.8 739.1 L725.5 732.4 L731.1 725.8 L736.8 719.2 L742.5 712.6 L748.1 706.0 L753.8 699.4 L759.5 692.8 L765.2 686.2 L770.8 679.6 L776.5 673.1 L782.2 666.5 L787.8 659.9 L793.5 653.3 L799.2 646.8 L804.9 640.2 L810.5 633.7 L816.2 627.1 L821.9 620.6 L827.5 614.0 L833.2 607.5 L838.9 601.0 L844.5 594.5 L850.2 588.0 L855.9 581.5 L861.5 575.0 L867.2 568.5 L872.9 562.1 L878.6 555.6 L884.2 549.2 L889.9 542.7 L895.6 536.3 L901.2 529.9 L906.9 523.5 L912.6 517.1 L918.2 510.8 L923.9 504.4 L929.6 498.1 L935.3 491.8 L940.9 485.5 L946.6 479.3 L952.3 473.1 L957.9 466.8 L963.6 460.7 L969.3 454.5 L975.0 448.4 L980.6 442.3 L986.3 436.2 L992.0 430.2 L997.6 424.2 L1003.3 418.3 L1009.0 412.4 L1014.6 406.6 L1020.3 400.8 L1026.0 395.0 L1031.7 389.3 L1037.3 383.7 L1043.0 378.1 L1048.7 372.5 L1054.3 367.1 L1060.0 361.7 L1065.7 356.4 L1071.3 351.1 L1077.0 345.9 L1082.7 340.9 L1088.3 335.8 L1094.0 330.9 L1099.7 326.1 L1105.4 321.3 L1111.0 316.7 L1116.7 312.1 L1122.4 307.7 L1128.0 303.3 L1133.7 299.1 L1139.4 294.9 L1145.0 290.9 L1150.7 287.0 L1156.4 283.2 L1162.1 279.5 L1167.7 275.9 L1173.4 272.5 L1179.1 269.2 L1184.7 266.0 L1190.4 262.9 L1196.1 259.9 L1201.8 257.1 L1207.4 254.4 L1213.1 251.9 L1218.8 249.5 L1224.4 247.2 L1230.1 245.0 L1235.8 243.0 L1241.4 241.1 L1247.1 239.4 L1252.8 237.8 L1258.5 236.3 L1264.1 234.9 L1269.8 233.7 L1275.5 232.6 L1281.1 231.7 L1286.8 230.9 L1292.5 230.2 L1298.1 229.7 L1303.8 229.3 L1309.5 229.0 L1315.2 228.9 L1320.8 228.9 L1326.5 229.0 L1332.2 229.2 L1337.8 229.6 L1343.5 230.2 L1349.2 230.8 L1354.8 231.6 L1360.5 232.5 L1366.2 233.6 L1371.8 234.7 L1377.5 236.0 L1383.2 237.5 L1388.9 239.0 L1394.5 240.7 L1400.2 242.5 L1405.9 244.5 L1411.5 246.5 L1417.2 248.7 L1422.9 251.0 L1428.5 253.4 L1434.2 256.0 L1439.9 258.7 L1445.6 261.5 L1451.2 264.4 L1456.9 267.4 L1462.6 270.6 L1468.2 273.9 L1473.9 277.3 L1479.6 280.8 L1485.2 284.4 L1490.9 288.2 L1496.6 292.1 L1502.3 296.1 L1507.9 300.2 L1513.6 304.4 L1519.3 308.8 L1524.9 313.2 L1530.6 317.8 L1536.3 322.5 L1542.0 327.3 L1547.6 332.2 L1553.3 337.3 L1559.0 342.4 L1564.6 347.7 L1570.3 353.1 L1576.0 358.5 L1581.6 364.2 L1587.3 369.9 L1593.0 375.7 L1598.7 381.6 L1604.3 387.7 L1610.0 393.9 L1615.7 400.1 L1621.3 406.5 L1627.0 413.0 L1632.7 419.6 L1638.3 426.4 L1644.0 433.2 L1649.7 440.1 L1655.3 447.2 L1661.0 454.4 L1666.7 461.6 L1672.4 469.0 L1678.0 476.5 L1683.7 484.1 L1689.4 491.8 L1695.0 499.6 L1700.7 507.5 L1706.4 515.6 L1712.0 523.7 L1717.7 532.0 L1723.4 540.3 L1729.1 548.8 L1734.7 557.4 L1740.4 566.0 L1746.1 574.8 L1751.7 583.7 L1757.4 592.7 L1763.1 601.8 L1768.8 611.1 L1774.4 620.4 L1780.1 629.8 L1785.8 639.3 L1791.4 649.0 L1797.1 658.7 L1802.8 668.6 L1808.4 678.6 L1814.1 688.6 L1819.8 698.8 L1825.5 709.1 L1831.1 719.5 L1836.8 729.9 L1842.5 740.5 L1848.1 751.2 L1853.8 762.0 L1859.5 773.0 L1865.1 784.0 L1870.8 795.1 L1876.5 806.3 L1882.2 817.7 L1887.8 829.1 L1893.5 840.6 L1899.2 852.3 L1904.8 864.0 L1910.5 875.9 L1916.2 887.8 L1921.8 899.9 L1927.5 912.1 L1933.2 924.3 L1938.8 936.7 L1944.5 949.2 L1950.2 961.8 L1955.9 974.5 L1961.5 987.3 L1967.2 1000.2 L1972.9 1013.2 L1978.5 1026.3 L1984.2 1039.5 L1989.9 1052.8 L1995.5 1066.2 L2001.2 1079.7 L2006.9 1093.4 L2012.6 1107.1 L2018.2 1120.9 L2023.9 1134.9 L2029.6 1148.9 L2035.2 1163.0 L2040.9 1177.3 L2046.6 1191.6 L2052.2 1206.1 L2057.9 1220.6 L2063.6 1235.3 L2069.3 1250.1 L2074.9 1264.9 L2080.6 1279.9 L2086.3 1295.0 L2091.9 1310.1 L2097.6 1325.4"/>
<path d="M210.6 1342.4 L215.2 1337.8 L220.8 1332.1 L226.5 1326.4 L232.2 1320.8 L237.8 1315.1 L243.5 1309.4 L249.2 1303.7 L254.9 1298.0 L260.5 1292.4 L266.2 1286.7 L271.9 1281.0 L277.5 1275.4 L283.2 1269.7 L288.9 1264.0 L294.6 1258.4 L300.2 1252.7 L305.9 1247.0 L311.6 1241.4 L317.2 1235.7 L322.9 1230.1 L328.6 1224.4 L334.2 1218.7 L339.9 1213.1 L345.6 1207.4 L351.2 1201.8 L356.9 1196.1 L362.6 1190.5 L368.3 1184.9 L373.9 1179.2 L379.6 1173.6 L385.3 1167.9 L390.9 1162.3 L396.6 1156.7 L402.3 1151.0 L407.9 1145.4 L413.6 1139.8 L419.3 1134.1 L425.0 1128.5 L430.6 1122.9 L436.3 1117.3 L442.0 1111.6 L447.6 1106.0 L453.3 1100.4 L459.0 1094.8 L464.6 1089.2 L470.3 1083.5 L476.0 1077.9 L481.7 1072.3 L487.3 1066.7 L493.0 1061.1 L498.7 1055.5 L504.3 1049.9 L510.0 1044.3 L515.7 1038.7 L521.4 1033.1 L527.0 1027.5 L532.7 1021.9 L538.4 1016.3 L544.0 1010.7 L549.7 1005.1 L555.4 999.5 L561.0 993.9 L566.7 988.3 L572.4 982.7 L578.0 977.2 L583.7 971.6 L589.4 966.0 L595.1 960.4 L600.7 954.8 L606.4 949.3 L612.1 943.7 L617.7 938.1 L623.4 932.5 L629.1 927.0 L634.8 921.4 L640.4 915.8 L646.1 910.3 L651.8 904.7 L657.4 899.2 L663.1 893.6 L668.8 888.0 L674.4 882.5 L680.1 876.9 L685.8 871.4 L691.5 865.8 L697.1 860.3 L702.8 854.7 L708.5 849.2 L714.1 843.6 L719.8 838.1 L725.5 832.6 L731.1 827.0 L736.8 821.5 L742.5 816.0 L748.1 810.4 L753.8 804.9 L759.5 799.4 L765.2 793.8 L770.8 788.3 L776.5 782.8 L782.2 777.3 L787.8 771.8 L793.5 766.2 L799.2 760.7 L804.9 755.2 L810.5 749.7 L816.2 744.2 L821.9 738.7 L827.5 733.2 L833.2 727.7 L838.9 722.2 L844.5 716.7 L850.2 711.2 L855.9 705.7 L861.5 700.3 L867.2 694.8 L872.9 689.3 L878.6 683.8 L884.2 678.4 L889.9 672.9 L895.6 667.4 L901.2 662.0 L906.9 656.5 L912.6 651.1 L918.2 645.7 L923.9 640.2 L929.6 634.8 L935.3 629.4 L940.9 623.9 L946.6 618.5 L952.3 613.1 L957.9 607.7 L963.6 602.3 L969.3 597.0 L975.0 591.6 L980.6 586.2 L986.3 580.9 L992.0 575.5 L997.6 570.2 L1003.3 564.9 L1009.0 559.6 L1014.6 554.3 L1020.3 549.0 L1026.0 543.8 L1031.7 538.5 L1037.3 533.3 L1043.0 528.1 L1048.7 522.9 L1054.3 517.7 L1060.0 512.6 L1065.7 507.5 L1071.3 502.4 L1077.0 497.3 L1082.7 492.3 L1088.3 487.3 L1094.0 482.3 L1099.7 477.4 L1105.4 472.5 L1111.0 467.6 L1116.7 462.8 L1122.4 458.0 L1128.0 453.3 L1133.7 448.6 L1139.4 444.0 L1145.0 439.4 L1150.7 434.9 L1156.4 430.4 L1162.1 426.0 L1167.7 421.7 L1173.4 417.4 L1179.1 413.2 L1184.7 409.1 L1190.4 405.1 L1196.1 401.2 L1201.8 397.3 L1207.4 393.5 L1213.1 389.8 L1218.8 386.3 L1224.4 382.8 L1230.1 379.4 L1235.8 376.1 L1241.4 372.9 L1247.1 369.9 L1252.8 366.9 L1258.5 364.1 L1264.1 361.4 L1269.8 358.8 L1275.5 356.4 L1281.1 354.0 L1286.8 351.8 L1292.5 349.8 L1298.1 347.8 L1303.8 346.0 L1309.5 344.4 L1315.2 342.9 L1320.8 341.5 L1326.5 340.2 L1332.2 339.1 L1337.8 338.2 L1343.5 337.4 L1349.2 336.7 L1354.8 336.2 L1360.5 335.8 L1366.2 335.6 L1371.8 335.5 L1377.5 335.5 L1383.2 335.7 L1388.9 336.1 L1394.5 336.6 L1400.2 337.2 L1405.9 338.0 L1411.5 338.9 L1417.2 340.0 L1422.9 341.2 L1428.5 342.6 L1434.2 344.1 L1439.9 345.7 L1445.6 347.5 L1451.2 349.4 L1456.9 351.5 L1462.6 353.7 L1468.2 356.0 L1473.9 358.5 L1479.6 361.1 L1485.2 363.9 L1490.9 366.8 L1496.6 369.8 L1502.3 373.0 L1507.9 376.3 L1513.6 379.7 L1519.3 383.3 L1524.9 387.0 L1530.6 390.8 L1536.3 394.7 L1542.0 398.8 L1547.6 403.0 L1553.3 407.4 L1559.0 411.9 L1564.6 416.5 L1570.3 421.2 L1576.0 426.0 L1581.6 431.0 L1587.3 436.1 L1593.0 441.4 L1598.7 446.7 L1604.3 452.2 L1610.0 457.8 L1615.7 463.5 L1621.3 469.4 L1627.0 475.3 L1632.7 481.4 L1638.3 487.6 L1644.0 493.9 L1649.7 500.4 L1655.3 507.0 L1661.0 513.7 L1666.7 520.5 L1672.4 527.4 L1678.0 534.4 L1683.7 541.6 L1689.4 548.9 L1695.0 556.2 L1700.7 563.7 L1706.4 571.4 L1712.0 579.1 L1717.7 587.0 L1723.4 594.9 L1729.1 603.0 L1734.7 611.2 L1740.4 619.5 L1746.1 628.0 L1751.7 636.5 L1757.4 645.1 L1763.1 653.9 L1768.8 662.8 L1774.4 671.8 L1780.1 680.9 L1785.8 690.1 L1791.4 699.4 L1797.1 708.9 L1802.8 718.4 L1808.4 728.1 L1814.1 737.8 L1819.8 747.7 L1825.5 757.7 L1831.1 767.8 L1836.8 778.0 L1842.5 788.3 L1848.1 798.8 L1853.8 809.3 L1859.5 820.0 L1865.1 830.7 L1870.8 841.6 L1876.5 852.6 L1882.2 863.7 L1887.8 874.9 L1893.5 886.2 L1899.2 897.6 L1904.8 909.1 L1910.5 920.7 L1916.2 932.4 L1921.8 944.3 L1927.5 956.2 L1933.2 968.3 L1938.8 980.5 L1944.5 992.7 L1950.2 1005.1 L1955.9 1017.6 L1961.5 1030.2 L1967.2 1042.9 L1972.9 1055.7 L1978.5 1068.6 L1984.2 1081.6 L1989.9 1094.8 L1995.5 1108.0 L2001.2 1121.3 L2006.9 1134.8 L2012.6 1148.3 L2018.2 1162.0 L2023.9 1175.7 L2029.6 1189.6 L2035.2 1203.6 L2040.9 1217.7 L2046.6 1231.8 L2052.2 1246.1 L2057.9 1260.5 L2063.6 1275.0 L2069.3 1289.6 L2074.9 1304.3 L2077.5 1311.0"/>
<path d="M210.6 1342.6 L215.2 1338.9 L220.8 1334.4 L226.5 1329.8 L232.2 1325.3 L237.8 1320.7 L243.5 1316.1 L249.2 1311.6 L254.9 1307.0 L260.5 1302.5 L266.2 1297.9 L271.9 1293.4 L277.5 1288.8 L283.2 1284.3 L288.9 1279.7 L294.6 1275.2 L300.2 1270.6 L305.9 1266.1 L311.6 1261.5 L317.2 1257.0 L322.9 1252.5 L328.6 1247.9 L334.2 1243.4 L339.9 1238.8 L345.6 1234.3 L351.2 1229.8 L356.9 1225.2 L362.6 1220.7 L368.3 1216.2 L373.9 1211.7 L379.6 1207.1 L385.3 1202.6 L390.9 1198.1 L396.6 1193.6 L402.3 1189.0 L407.9 1184.5 L413.6 1180.0 L419.3 1175.5 L425.0 1171.0 L430.6 1166.4 L436.3 1161.9 L442.0 1157.4 L447.6 1152.9 L453.3 1148.4 L459.0 1143.9 L464.6 1139.4 L470.3 1134.9 L476.0 1130.4 L481.7 1125.9 L487.3 1121.4 L493.0 1116.9 L498.7 1112.4 L504.3 1107.9 L510.0 1103.4 L515.7 1098.9 L521.4 1094.4 L527.0 1089.9 L532.7 1085.4 L538.4 1080.9 L544.0 1076.4 L549.7 1071.9 L555.4 1067.4 L561.0 1063.0 L566.7 1058.5 L572.4 1054.0 L578.0 1049.5 L583.7 1045.0 L589.4 1040.5 L595.1 1036.1 L600.7 1031.6 L606.4 1027.1 L612.1 1022.6 L617.7 1018.2 L623.4 1013.7 L629.1 1009.2 L634.8 1004.8 L640.4 1000.3 L646.1 995.8 L651.8 991.4 L657.4 986.9 L663.1 982.4 L668.8 978.0 L674.4 973.5 L680.1 969.1 L685.8 964.6 L691.5 960.1 L697.1 955.7 L702.8 951.2 L708.5 946.8 L714.1 942.3 L719.8 937.9 L725.5 933.4 L731.1 929.0 L736.8 924.6 L742.5 920.1 L748.1 915.7 L753.8 911.2 L759.5 906.8 L765.2 902.3 L770.8 897.9 L776.5 893.5 L782.2 889.0 L787.8 884.6 L793.5 880.2 L799.2 875.7 L804.9 871.3 L810.5 866.9 L816.2 862.5 L821.9 858.0 L827.5 853.6 L833.2 849.2 L838.9 844.8 L844.5 840.4 L850.2 836.0 L855.9 831.5 L861.5 827.1 L867.2 822.7 L872.9 818.3 L878.6 813.9 L884.2 809.5 L889.9 805.1 L895.6 800.7 L901.2 796.3 L906.9 791.9 L912.6 787.5 L918.2 783.1 L923.9 778.7 L929.6 774.3 L935.3 769.9 L940.9 765.5 L946.6 761.2 L952.3 756.8 L957.9 752.4 L963.6 748.0 L969.3 743.7 L975.0 739.3 L980.6 734.9 L986.3 730.6 L992.0 726.2 L997.6 721.8 L1003.3 717.5 L1009.0 713.1 L1014.6 708.8 L1020.3 704.5 L1026.0 700.1 L1031.7 695.8 L1037.3 691.5 L1043.0 687.1 L1048.7 682.8 L1054.3 678.5 L1060.0 674.2 L1065.7 669.9 L1071.3 665.6 L1077.0 661.4 L1082.7 657.1 L1088.3 652.8 L1094.0 648.6 L1099.7 644.3 L1105.4 640.1 L1111.0 635.9 L1116.7 631.7 L1122.4 627.5 L1128.0 623.3 L1133.7 619.1 L1139.4 614.9 L1145.0 610.8 L1150.7 606.7 L1156.4 602.6 L1162.1 598.5 L1167.7 594.4 L1173.4 590.4 L1179.1 586.4 L1184.7 582.4 L1190.4 578.4 L1196.1 574.5 L1201.8 570.6 L1207.4 566.7 L1213.1 562.9 L1218.8 559.1 L1224.4 555.3 L1230.1 551.6 L1235.8 548.0 L1241.4 544.3 L1247.1 540.7 L1252.8 537.2 L1258.5 533.8 L1264.1 530.3 L1269.8 527.0 L1275.5 523.7 L1281.1 520.5 L1286.8 517.3 L1292.5 514.3 L1298.1 511.3 L1303.8 508.4 L1309.5 505.5 L1315.2 502.8 L1320.8 500.2 L1326.5 497.6 L1332.2 495.2 L1337.8 492.8 L1343.5 490.6 L1349.2 488.4 L1354.8 486.4 L1360.5 484.5 L1366.2 482.8 L1371.8 481.1 L1377.5 479.6 L1383.2 478.2 L1388.9 476.9 L1394.5 475.8 L1400.2 474.8 L1405.9 473.9 L1411.5 473.2 L1417.2 472.7 L1422.9 472.3 L1428.5 472.0 L1434.2 471.9 L1439.9 471.9 L1445.6 472.1 L1451.2 472.4 L1456.9 472.9 L1462.6 473.6 L1468.2 474.4 L1473.9 475.3 L1479.6 476.4 L1485.2 477.7 L1490.9 479.1 L1496.6 480.7 L1502.3 482.4 L1507.9 484.3 L1513.6 486.4 L1519.3 488.6 L1524.9 490.9 L1530.6 493.5 L1536.3 496.1 L1542.0 498.9 L1547.6 501.9 L1553.3 505.0 L1559.0 508.3 L1564.6 511.8 L1570.3 515.3 L1576.0 519.1 L1581.6 522.9 L1587.3 527.0 L1593.0 531.1 L1598.7 535.4 L1604.3 539.9 L1610.0 544.5 L1615.7 549.2 L1621.3 554.1 L1627.0 559.2 L1632.7 564.3 L1638.3 569.6 L1644.0 575.1 L1649.7 580.7 L1655.3 586.4 L1661.0 592.3 L1666.7 598.2 L1672.4 604.4 L1678.0 610.6 L1683.7 617.0 L1689.4 623.6 L1695.0 630.2 L1700.7 637.0 L1706.4 643.9 L1712.0 651.0 L1717.7 658.2 L1723.4 665.5 L1729.1 672.9 L1734.7 680.5 L1740.4 688.2 L1746.1 696.0 L1751.7 703.9 L1757.4 712.0 L1763.1 720.2 L1768.8 728.5 L1774.4 736.9 L1780.1 745.5 L1785.8 754.2 L1791.4 763.0 L1797.1 771.9 L1802.8 780.9 L1808.4 790.1 L1814.1 799.4 L1819.8 808.8 L1825.5 818.3 L1831.1 828.0 L1836.8 837.7 L1842.5 847.6 L1848.1 857.6 L1853.8 867.7 L1859.5 878.0 L1865.1 888.3 L1870.8 898.8 L1876.5 909.3 L1882.2 920.0 L1887.8 930.9 L1893.5 941.8 L1899.2 952.8 L1904.8 964.0 L1910.5 975.2 L1916.2 986.6 L1921.8 998.1 L1927.5 1009.7 L1933.2 1021.5 L1938.8 1033.3 L1944.5 1045.2 L1950.2 1057.3 L1955.9 1069.5 L1961.5 1081.7 L1967.2 1094.1 L1972.9 1106.6 L1978.5 1119.3 L1984.2 1132.0 L1989.9 1144.8 L1995.5 1157.8 L2001.2 1170.8 L2006.9 1184.0 L2012.6 1197.3 L2018.2 1210.7 L2023.9 1224.2 L2029.6 1237.8 L2035.2 1251.5 L2040.9 1265.3 L2046.6 1279.3 L2052.2 1293.3 L2057.9 1307.5 L2063.6 1321.8 L2065.9 1327.5"/>
<path d="M210.6 1342.8 L215.2 1340.1 L220.8 1336.6 L226.5 1333.2 L232.2 1329.8 L237.8 1326.3 L243.5 1322.9 L249.2 1319.5 L254.9 1316.1 L260.5 1312.6 L266.2 1309.2 L271.9 1305.8 L277.5 1302.4 L283.2 1298.9 L288.9 1295.5 L294.6 1292.1 L300.2 1288.7 L305.9 1285.3 L311.6 1281.8 L317.2 1278.4 L322.9 1275.0 L328.6 1271.6 L334.2 1268.2 L339.9 1264.8 L345.6 1261.4 L351.2 1257.9 L356.9 1254.5 L362.6 1251.1 L368.3 1247.7 L373.9 1244.3 L379.6 1240.9 L385.3 1237.5 L390.9 1234.1 L396.6 1230.7 L402.3 1227.3 L407.9 1223.9 L413.6 1220.5 L419.3 1217.1 L425.0 1213.7 L430.6 1210.3 L436.3 1206.9 L442.0 1203.5 L447.6 1200.1 L453.3 1196.7 L459.0 1193.3 L464.6 1189.9 L470.3 1186.5 L476.0 1183.2 L481.7 1179.8 L487.3 1176.4 L493.0 1173.0 L498.7 1169.6 L504.3 1166.2 L510.0 1162.8 L515.7 1159.5 L521.4 1156.1 L527.0 1152.7 L532.7 1149.3 L538.4 1145.9 L544.0 1142.6 L549.7 1139.2 L555.4 1135.8 L561.0 1132.4 L566.7 1129.1 L572.4 1125.7 L578.0 1122.3 L583.7 1118.9 L589.4 1115.6 L595.1 1112.2 L600.7 1108.8 L606.4 1105.5 L612.1 1102.1 L617.7 1098.7 L623.4 1095.4 L629.1 1092.0 L634.8 1088.6 L640.4 1085.3 L646.1 1081.9 L651.8 1078.6 L657.4 1075.2 L663.1 1071.8 L668.8 1068.5 L674.4 1065.1 L680.1 1061.8 L685.8 1058.4 L691.5 1055.1 L697.1 1051.7 L702.8 1048.4 L708.5 1045.0 L714.1 1041.7 L719.8 1038.3 L725.5 1035.0 L731.1 1031.6 L736.8 1028.3 L742.5 1024.9 L748.1 1021.6 L753.8 1018.3 L759.5 1014.9 L765.2 1011.6 L770.8 1008.2 L776.5 1004.9 L782.2 1001.6 L787.8 998.2 L793.5 994.9 L799.2 991.6 L804.9 988.2 L810.5 984.9 L816.2 981.6 L821.9 978.2 L827.5 974.9 L833.2 971.6 L838.9 968.3 L844.5 964.9 L850.2 961.6 L855.9 958.3 L861.5 955.0 L867.2 951.6 L872.9 948.3 L878.6 945.0 L884.2 941.7 L889.9 938.4 L895.6 935.1 L901.2 931.7 L906.9 928.4 L912.6 925.1 L918.2 921.8 L923.9 918.5 L929.6 915.2 L935.3 911.9 L940.9 908.6 L946.6 905.3 L952.3 902.0 L957.9 898.7 L963.6 895.3 L969.3 892.0 L975.0 888.7 L980.6 885.5 L986.3 882.2 L992.0 878.9 L997.6 875.6 L1003.3 872.3 L1009.0 869.0 L1014.6 865.7 L1020.3 862.4 L1026.0 859.1 L1031.7 855.8 L1037.3 852.6 L1043.0 849.3 L1048.7 846.0 L1054.3 842.7 L1060.0 839.4 L1065.7 836.2 L1071.3 832.9 L1077.0 829.6 L1082.7 826.4 L1088.3 823.1 L1094.0 819.9 L1099.7 816.6 L1105.4 813.3 L1111.0 810.1 L1116.7 806.8 L1122.4 803.6 L1128.0 800.4 L1133.7 797.1 L1139.4 793.9 L1145.0 790.7 L1150.7 787.4 L1156.4 784.2 L1162.1 781.0 L1167.7 777.8 L1173.4 774.6 L1179.1 771.4 L1184.7 768.2 L1190.4 765.0 L1196.1 761.9 L1201.8 758.7 L1207.4 755.6 L1213.1 752.4 L1218.8 749.3 L1224.4 746.2 L1230.1 743.0 L1235.8 739.9 L1241.4 736.9 L1247.1 733.8 L1252.8 730.7 L1258.5 727.7 L1264.1 724.7 L1269.8 721.6 L1275.5 718.7 L1281.1 715.7 L1286.8 712.7 L1292.5 709.8 L1298.1 706.9 L1303.8 704.1 L1309.5 701.2 L1315.2 698.4 L1320.8 695.6 L1326.5 692.9 L1332.2 690.2 L1337.8 687.5 L1343.5 684.9 L1349.2 682.3 L1354.8 679.8 L1360.5 677.3 L1366.2 674.8 L1371.8 672.5 L1377.5 670.1 L1383.2 667.9 L1388.9 665.7 L1394.5 663.6 L1400.2 661.5 L1405.9 659.5 L1411.5 657.6 L1417.2 655.8 L1422.9 654.1 L1428.5 652.5 L1434.2 650.9 L1439.9 649.5 L1445.6 648.1 L1451.2 646.9 L1456.9 645.8 L1462.6 644.8 L1468.2 643.9 L1473.9 643.1 L1479.6 642.5 L1485.2 641.9 L1490.9 641.6 L1496.6 641.3 L1502.3 641.2 L1507.9 641.2 L1513.6 641.4 L1519.3 641.8 L1524.9 642.2 L1530.6 642.9 L1536.3 643.7 L1542.0 644.6 L1547.6 645.7 L1553.3 647.0 L1559.0 648.4 L1564.6 650.0 L1570.3 651.8 L1576.0 653.7 L1581.6 655.8 L1587.3 658.0 L1593.0 660.4 L1598.7 663.0 L1604.3 665.8 L1610.0 668.7 L1615.7 671.8 L1621.3 675.0 L1627.0 678.5 L1632.7 682.1 L1638.3 685.8 L1644.0 689.7 L1649.7 693.8 L1655.3 698.1 L1661.0 702.5 L1666.7 707.1 L1672.4 711.8 L1678.0 716.7 L1683.7 721.8 L1689.4 727.0 L1695.0 732.4 L1700.7 737.9 L1706.4 743.6 L1712.0 749.4 L1717.7 755.4 L1723.4 761.6 L1729.1 767.9 L1734.7 774.4 L1740.4 781.0 L1746.1 787.7 L1751.7 794.6 L1757.4 801.7 L1763.1 808.8 L1768.8 816.2 L1774.4 823.7 L1780.1 831.3 L1785.8 839.0 L1791.4 847.0 L1797.1 855.0 L1802.8 863.2 L1808.4 871.5 L1814.1 880.0 L1819.8 888.6 L1825.5 897.3 L1831.1 906.2 L1836.8 915.2 L1842.5 924.3 L1848.1 933.6 L1853.8 943.0 L1859.5 952.5 L1865.1 962.2 L1870.8 971.9 L1876.5 981.9 L1882.2 991.9 L1887.8 1002.1 L1893.5 1012.4 L1899.2 1022.8 L1904.8 1033.4 L1910.5 1044.1 L1916.2 1054.9 L1921.8 1065.8 L1927.5 1076.8 L1933.2 1088.0 L1938.8 1099.3 L1944.5 1110.7 L1950.2 1122.3 L1955.9 1134.0 L1961.5 1145.7 L1967.2 1157.6 L1972.9 1169.7 L1978.5 1181.8 L1984.2 1194.1 L1989.9 1206.5 L1995.5 1219.0 L2001.2 1231.6 L2006.9 1244.3 L2012.6 1257.2 L2018.2 1270.2 L2023.9 1283.3 L2029.6 1296.5 L2035.2 1309.8 L2040.9 1323.2 L2043.7 1330.0"/>
</g>
<g stroke="#D95319" stroke-width="5.0" stroke-linecap="square" fill="none">
<path d="M2194.0 127.5V1343.5"/><path d="M2194.0 1343.50H2171.90M2194.0 1140.83H2171.90M2194.0 938.17H2171.90M2194.0 735.50H2171.90M2194.0 532.83H2171.90M2194.0 330.17H2171.90M2194.0 127.50H2171.90" stroke-linecap="butt"/></g>
<text transform="translate(2217.5 1365.8) scale(1 1.06)" font-size="60" fill="#D95319" text-anchor="start">0</text>
<text transform="translate(2217.5 1163.1) scale(1 1.06)" font-size="60" fill="#D95319" text-anchor="start">0.5</text>
<text transform="translate(2217.5 960.5) scale(1 1.06)" font-size="60" fill="#D95319" text-anchor="start">1</text>
<text transform="translate(2217.5 757.8) scale(1 1.06)" font-size="60" fill="#D95319" text-anchor="start">1.5</text>
<text transform="translate(2217.5 555.1) scale(1 1.06)" font-size="60" fill="#D95319" text-anchor="start">2</text>
<text transform="translate(2217.5 352.5) scale(1 1.06)" font-size="60" fill="#D95319" text-anchor="start">2.5</text>
<text transform="translate(2217.5 149.8) scale(1 1.06)" font-size="60" fill="#D95319" text-anchor="start">3</text>
<text transform="translate(2197.1 109.8) scale(1 1.0)" font-size="72.5" fill="#D95319" text-anchor="start">×</text>
<text transform="translate(2243.5 100.2) scale(1 1.06)" font-size="60" fill="#D95319" text-anchor="start">10</text>
<text transform="translate(2302.3 70.9) scale(1 1.06)" font-size="48.5" fill="#D95319" text-anchor="start">4</text>
<text transform="translate(2363.5 736.5) rotate(-90)" font-size="60.4" fill="#D95319" text-anchor="middle">Power (W)</text>
<text transform="translate(483.7 288.9) scale(1 1.02)" font-size="60" fill="#000" text-anchor="end">1400 W/m</text><text transform="translate(485.3 259.2) scale(1 1.02)" font-size="46.2" fill="#000" text-anchor="start">2</text>
<path d="M508.2 215.3L543.1 191.5" stroke="#000" stroke-width="5.1" fill="none"/><path d="M570.9 172.5L540.6 215.4L543.1 191.5L520.0 185.1Z" fill="#000" stroke="#000" stroke-width="3.0" stroke-linejoin="round"/>
<text transform="translate(483.7 446.1) scale(1 1.02)" font-size="60" fill="#000" text-anchor="end">1200 W/m</text><text transform="translate(485.3 416.4) scale(1 1.02)" font-size="46.2" fill="#000" text-anchor="start">2</text>
<path d="M508.2 372.5L543.1 348.7" stroke="#000" stroke-width="5.1" fill="none"/><path d="M570.9 329.7L540.6 372.6L543.1 348.7L520.0 342.3Z" fill="#000" stroke="#000" stroke-width="3.0" stroke-linejoin="round"/>
<text transform="translate(483.7 614.3) scale(1 1.02)" font-size="60" fill="#000" text-anchor="end">1000 W/m</text><text transform="translate(485.3 584.6) scale(1 1.02)" font-size="46.2" fill="#000" text-anchor="start">2</text>
<path d="M508.2 540.7L543.1 516.9" stroke="#000" stroke-width="5.1" fill="none"/><path d="M570.9 497.9L540.6 540.8L543.1 516.9L520.0 510.5Z" fill="#000" stroke="#000" stroke-width="3.0" stroke-linejoin="round"/>
<text transform="translate(483.7 779.6) scale(1 1.02)" font-size="60" fill="#000" text-anchor="end">800 W/m</text><text transform="translate(485.3 749.9) scale(1 1.02)" font-size="46.2" fill="#000" text-anchor="start">2</text>
<path d="M508.2 706.0L543.1 682.2" stroke="#000" stroke-width="5.1" fill="none"/><path d="M570.9 663.2L540.6 706.1L543.1 682.2L520.0 675.8Z" fill="#000" stroke="#000" stroke-width="3.0" stroke-linejoin="round"/>
<text transform="translate(483.7 947.8) scale(1 1.02)" font-size="60" fill="#000" text-anchor="end">600 W/m</text><text transform="translate(485.3 918.1) scale(1 1.02)" font-size="46.2" fill="#000" text-anchor="start">2</text>
<path d="M508.2 874.2L543.1 850.4" stroke="#000" stroke-width="5.1" fill="none"/><path d="M570.9 831.4L540.6 874.3L543.1 850.4L520.0 844.0Z" fill="#000" stroke="#000" stroke-width="3.0" stroke-linejoin="round"/>
<text transform="translate(2107.1 360.4) scale(1 1.02)" font-size="60" fill="#000" text-anchor="end">1400 W/m</text><text transform="translate(2108.7 330.7) scale(1 1.02)" font-size="46.2" fill="#000" text-anchor="start">2</text>
<path d="M1829.1 373.2L1765.1 469.9" stroke="#000" stroke-width="5.1" fill="none"/><path d="M1746.5 498.0L1758.4 446.9L1765.1 469.9L1788.9 467.1Z" fill="#000" stroke="#000" stroke-width="3.0" stroke-linejoin="round"/>
<text transform="translate(2122.1 458.0) scale(1 1.02)" font-size="60" fill="#000" text-anchor="end">1200 W/m</text><text transform="translate(2123.7 428.3) scale(1 1.02)" font-size="46.2" fill="#000" text-anchor="start">2</text>
<path d="M1845.3 470.9L1781.3 567.6" stroke="#000" stroke-width="5.1" fill="none"/><path d="M1762.7 595.7L1774.6 544.6L1781.3 567.6L1805.1 564.8Z" fill="#000" stroke="#000" stroke-width="3.0" stroke-linejoin="round"/>
<text transform="translate(2153.0 537.9) scale(1 1.02)" font-size="60" fill="#000" text-anchor="end">1000 W/m</text><text transform="translate(2154.6 508.2) scale(1 1.02)" font-size="46.2" fill="#000" text-anchor="start">2</text>
<path d="M1875.6 551.5L1811.6 648.2" stroke="#000" stroke-width="5.1" fill="none"/><path d="M1793.0 676.3L1804.9 625.2L1811.6 648.2L1835.4 645.4Z" fill="#000" stroke="#000" stroke-width="3.0" stroke-linejoin="round"/>
<text transform="translate(2119.3 619.7) scale(1 1.02)" font-size="60" fill="#000" text-anchor="end">800 W/m</text><text transform="translate(2120.9 590.0) scale(1 1.02)" font-size="46.2" fill="#000" text-anchor="start">2</text>
<path d="M1873.0 634.5L1809.0 731.2" stroke="#000" stroke-width="5.1" fill="none"/><path d="M1790.4 759.3L1802.3 708.2L1809.0 731.2L1832.8 728.4Z" fill="#000" stroke="#000" stroke-width="3.0" stroke-linejoin="round"/>
<text transform="translate(2132.9 717.9) scale(1 1.02)" font-size="60" fill="#000" text-anchor="end">600 W/m</text><text transform="translate(2134.5 688.2) scale(1 1.02)" font-size="46.2" fill="#000" text-anchor="start">2</text>
<path d="M1887.0 732.7L1823.0 829.4" stroke="#000" stroke-width="5.1" fill="none"/><path d="M1804.4 857.5L1816.3 806.4L1823.0 829.4L1846.8 826.6Z" fill="#000" stroke="#000" stroke-width="3.0" stroke-linejoin="round"/>
<rect x="1544.5" y="147.5" width="619" height="120" fill="none" stroke="#0000FF" stroke-width="5"/>
<text transform="translate(1571.3 236.3) scale(1 1.02)" font-size="60.4" fill="#000" text-anchor="start" font-weight="bold">Temperature= 25</text>
<text transform="translate(2038.7 206.4) scale(1 1.02)" font-size="50" fill="#000" text-anchor="start" font-weight="bold">o</text>
<text transform="translate(2063.7 236.3) scale(1 1.02)" font-size="60.4" fill="#000" text-anchor="start" font-weight="bold">C</text>
</svg></body></html>
